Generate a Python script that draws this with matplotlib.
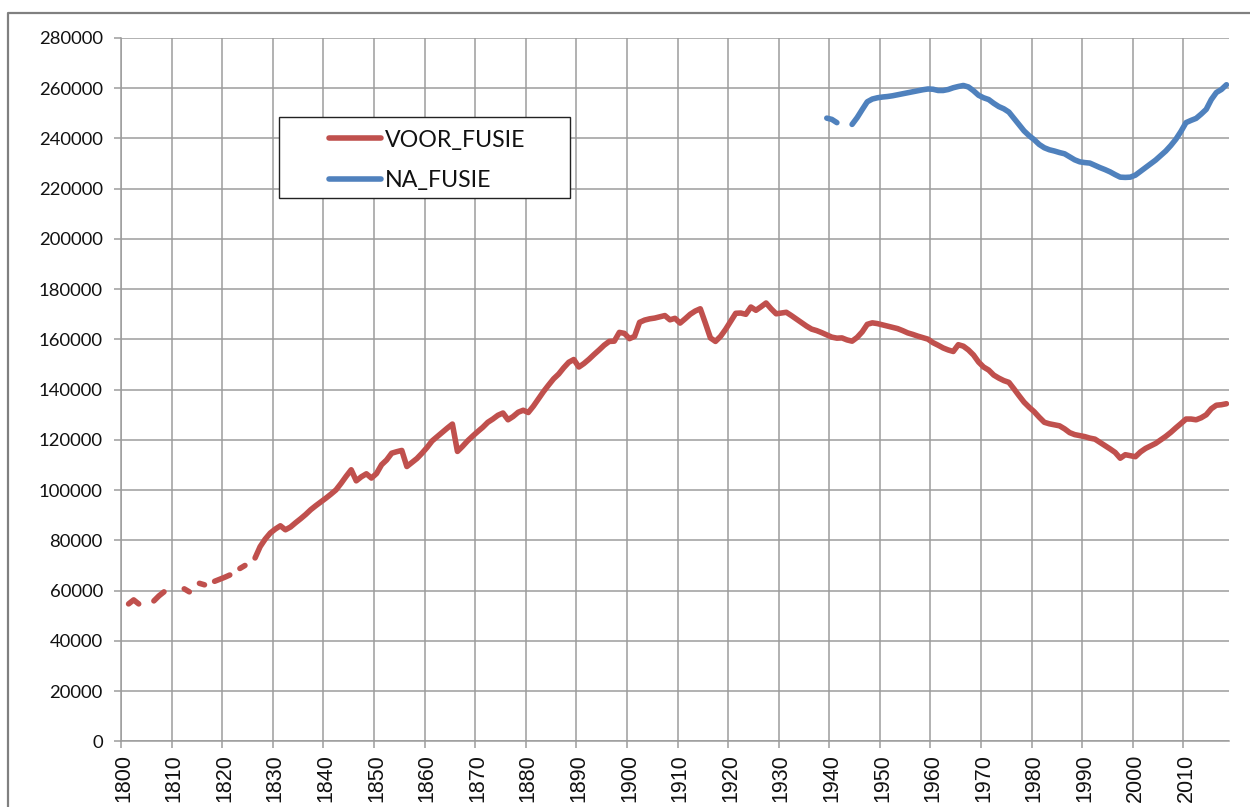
import numpy as np
import matplotlib
matplotlib.use("Agg")
import matplotlib.pyplot as plt
from matplotlib.patches import Rectangle
from matplotlib.lines import Line2D

nan = np.nan

# ---------------- data ----------------
years = list(range(1800, 2019))
series_names = ["VOOR_FUSIE", "NA_FUSIE"]

voor_fusie = [
    # 1800-1809
    nan, 54700, 56300, 54700, nan, nan, 55900, 57900, 59500, nan,
    # 1810-1819
    nan, nan, 60700, 59500, nan, 62900, 62300, nan, 63700, 64500,
    # 1820-1829
    65300, 66200, nan, 68800, 70000, nan, 73000, 77500, 80500, 82900,
    # 1830-1839
    84500, 85800, 84200, 85300, 87000, 88600, 90300, 92200, 93800, 95300,
    # 1840-1849
    96800, 98400, 100100, 102700, 105500, 108100, 103700, 105300, 106500, 104800,
    # 1850-1859
    106600, 110100, 112000, 114700, 115300, 115800, 109400, 111000, 112600, 114700,
    # 1860-1869
    117000, 119600, 121300, 123000, 124700, 126300, 115400, 117400, 119600, 121500,
    # 1870-1879
    123300, 125000, 127000, 128300, 129800, 130700, 128000, 129300, 131000, 131800,
    # 1880-1889
    130900, 133400, 136300, 139200, 141800, 144300, 146200, 148700, 150900, 152000,
    # 1890-1899
    149000, 150400, 152100, 154000, 155800, 157700, 159200, 159300, 162800, 162400,
    # 1900-1909
    160300, 161200, 166800, 167700, 168200, 168500, 169000, 169500, 167800, 168400,
    # 1910-1919
    166500, 168200, 170000, 171300, 172200, 166500, 160600, 159200, 161200, 164000,
    # 1920-1929
    167200, 170400, 170500, 170000, 172900, 171600, 173000, 174500, 172200, 170200,
    # 1930-1939
    170500, 170800, 169500, 168100, 166700, 165300, 164100, 163500, 162700, 161800,
    # 1940-1949
    160900, 160500, 160600, 159800, 159300, 160800, 163000, 166000, 166600, 166300,
    # 1950-1959
    165800, 165300, 164800, 164300, 163500, 162600, 162000, 161300, 160700, 160100,
    # 1960-1969
    158700, 157700, 156600, 155800, 155200, 157900, 157300, 155800, 153800, 151000,
    # 1970-1979
    149000, 147800, 145800, 144600, 143600, 142900, 140300, 137600, 135000, 133000,
    # 1980-1989
    131200, 129000, 127000, 126400, 126000, 125600, 124400, 122900, 122100, 121700,
    # 1990-1999
    121300, 120700, 120300, 119000, 117700, 116400, 115000, 112700, 114100, 113700,
    # 2000-2009
    113300, 115200, 116600, 117600, 118600, 120000, 121400, 123000, 124800, 126500,
    # 2010-2018
    128300, 128300, 128000, 128800, 130000, 132400, 133800, 134000, 134400,
]

na_fusie_start = 1939
na_fusie = [
    # 1939-1949
    248100, 247600, 246300, nan, nan, 245600, 248300, 251500, 254600, 255700, 256200,
    # 1950-1959
    256500, 256700, 257000, 257400, 257800, 258200, 258600, 259000, 259400, 259700,
    # 1960-1969
    259600, 259100, 259100, 259500, 260200, 260700, 261100, 260500, 259000, 257200,
    # 1970-1979
    256200, 255500, 254000, 252700, 251800, 250500, 248000, 245500, 243000, 241100,
    # 1980-1989
    239500, 237600, 236300, 235500, 235000, 234400, 233900, 232700, 231500, 230700,
    # 1990-1999
    230400, 230200, 229300, 228400, 227600, 226700, 225600, 224600, 224500, 224600,
    # 2000-2009
    225400, 226900, 228400, 229900, 231400, 233200, 235000, 237200, 239700, 242800,
    # 2010-2018
    246300, 247200, 248000, 249700, 251600, 255500, 258300, 259500, 261400,
]

decades = list(range(1800, 2011, 10))
decade_labels = [str(d) for d in decades]
y_ticks = list(range(0, 280001, 20000))
y_tick_labels = [str(v) for v in y_ticks]

# ---------------- style ----------------
RED = "#C0504D"
BLUE = "#4F81BD"
GRID = "#9c9c9c"
W, H = 1250, 807

fig = plt.figure(figsize=(W / 100, H / 100), dpi=100)
fig.patch.set_facecolor("white")

ax_left, ax_right, ax_top, ax_bottom = 121, 1229, 38, 741.3
ax = fig.add_axes([ax_left / W, 1 - ax_bottom / H,
                   (ax_right - ax_left) / W, (ax_bottom - ax_top) / H])
ax.set_axisbelow(True)

l1, = ax.plot(years, voor_fusie, color=RED, lw=4.0,
              solid_capstyle="round", solid_joinstyle="round", zorder=3)
na_years = years[years.index(na_fusie_start):]
l2, = ax.plot(na_years, na_fusie, color=BLUE, lw=4.0,
              solid_capstyle="round", solid_joinstyle="round", zorder=3)

ax.set_xlim(years[0] - 0.5, years[-1] + 0.5)
ax.set_ylim(y_ticks[0], y_ticks[-1])

# gridlines / tick marks between categories, labels centred on the category
ax.set_xticks([d - 0.5 for d in decades])
ax.set_xticklabels([])
ax.set_xticks(decades, minor=True)
ax.set_xticklabels(decade_labels, minor=True, rotation=90,
                   fontfamily="Liberation Sans", fontsize=15.5, color="#111111")
ax.tick_params(axis="x", which="major", length=5.3, width=1.1, color=GRID,
               direction="out")
ax.tick_params(axis="x", which="minor", length=0, pad=9.0)

ax.set_yticks(y_ticks)
ax.set_yticklabels(y_tick_labels, fontfamily="Lato", fontsize=13.3,
                   color="#111111")
ax.tick_params(axis="y", which="major", length=5.3, width=1.1, color=GRID,
               direction="out", pad=7.8)

ax.grid(True, which="major", color=GRID, lw=1.1)
for s in ["top", "right"]:
    ax.spines[s].set_visible(False)
for s in ["left", "bottom"]:
    ax.spines[s].set_color(GRID)
    ax.spines[s].set_linewidth(1.1)

# legend: white box with thin black border
ax.add_patch(Rectangle((279 / W, 1 - 198 / H), 291 / W, 81 / H,
                       transform=fig.transFigure, facecolor="white",
                       edgecolor="#222222", lw=1.0, clip_on=False, zorder=4))
leg = ax.legend([l1, l2], series_names, loc="upper left",
                bbox_to_anchor=(317 / W, 1 - 118 / H),
                bbox_transform=fig.transFigure, frameon=False, borderpad=0,
                handlelength=2.25, handletextpad=0.18, labelspacing=0.85,
                prop={"family": "Lato", "size": 16.7})
leg.set_zorder(5)
for t in leg.get_texts():
    t.set_color("#111111")

# chart border (outer frame, partly outside the image)
fig.add_artist(Line2D([8 / W, 8 / W, 1.0], [0.0, 1 - 13.3 / H, 1 - 13.3 / H],
                      transform=fig.transFigure, color="#808080", lw=1.6))

fig.savefig("out.png", dpi=100)
